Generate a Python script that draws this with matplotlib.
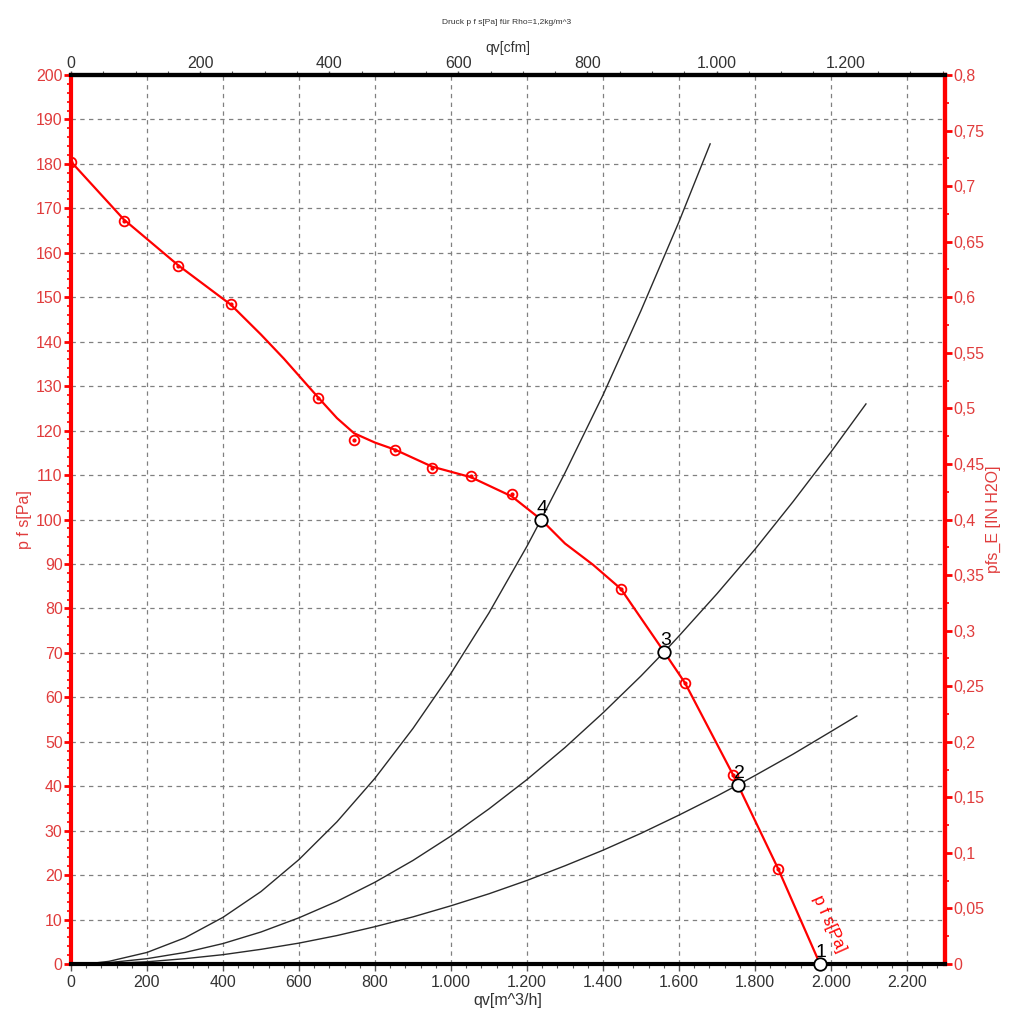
"""Kennlinie eines Ventilators: p f s ueber qv mit Anlagenkennlinien."""

import matplotlib
matplotlib.use("Agg")
import matplotlib.pyplot as plt
from matplotlib.ticker import FuncFormatter, MultipleLocator

plt.rcParams['font.family'] = ['Liberation Sans', 'DejaVu Sans']

# Ventilatorkennlinie (Linie) qv[m^3/h] / p f s[Pa]
kurve_qv = [0, 139, 282, 421, 500, 560, 650, 700, 745, 800, 853, 950, 1053, 1160,
            1237, 1300, 1374, 1447, 1561, 1616, 1742, 1755, 1861, 1971]
kurve_p = [180.5, 167.5, 157.2, 148.3, 141.6, 136.2, 127.5, 122.8, 119.4, 117.3, 115.7,
           111.9, 109.5, 105.2, 100.0, 94.6, 89.8, 84.4, 70.2, 63.2, 42.6, 40.3, 21.4, 0.0]

# Messpunkte auf der Kennlinie
mess_qv = [0, 139, 282, 421, 650, 745, 853, 950, 1053, 1160, 1447, 1616, 1742, 1861]
mess_p = [180.4, 167.2, 157.0, 148.5, 127.3, 117.9, 115.6, 111.6, 109.8, 105.7,
          84.4, 63.2, 42.5, 21.4]

# Betriebspunkte 1..4
bp_namen = ["1", "2", "3", "4"]
bp_qv = [1971, 1755, 1561, 1237]
bp_p = [0.0, 40.3, 70.2, 100.0]

# Anlagenkennlinien
anlage4_qv = [0, 50, 100, 200, 300, 400, 500, 600, 700, 800, 900, 1000, 1100, 1200,
              1237, 1300, 1400, 1500, 1600, 1682]
anlage4_p = [0, 0.1, 0.6, 2.6, 5.9, 10.5, 16.3, 23.5, 32.0, 41.8, 53.0, 65.4, 79.0,
             94.0, 100.0, 110.5, 128.0, 147.0, 167.0, 184.5]
anlage3_qv = [0, 50, 100, 200, 300, 400, 500, 600, 700, 800, 900, 1000, 1100, 1200,
              1300, 1400, 1500, 1561, 1600, 1700, 1800, 1900, 2000, 2092]
anlage3_p = [0, 0.05, 0.3, 1.2, 2.6, 4.6, 7.2, 10.4, 14.1, 18.4, 23.3, 28.8, 34.9,
             41.5, 48.7, 56.5, 64.8, 70.2, 73.8, 83.3, 93.3, 104.0, 115.2, 126.0]
anlage2_qv = [0, 50, 100, 200, 300, 400, 500, 600, 700, 800, 900, 1000, 1100, 1200,
              1300, 1400, 1500, 1600, 1700, 1755, 1800, 1900, 2000, 2068]
anlage2_p = [0, 0.03, 0.13, 0.5, 1.2, 2.1, 3.3, 4.7, 6.4, 8.4, 10.6, 13.1, 15.8,
             18.8, 22.1, 25.6, 29.4, 33.5, 37.8, 40.3, 42.4, 47.2, 52.3, 55.8]

ROT = "#ff0000"
ROT_TEXT = "#e03c3c"
GRAU_TEXT = "#333333"
CFM = 1.699011   # m^3/h pro cfm
PA_PRO_INH2O = 250.0


def tausender(wert, pos):
    """Formatiert 1200 als 1.200."""
    return f"{wert:,.0f}".replace(",", ".")


def komma(wert, pos):
    """Formatiert 0.45 als 0,45."""
    text = f"{wert:.3f}".rstrip("0").rstrip(".")
    return text.replace(".", ",")


fig = plt.figure(figsize=(10.11, 10.24), dpi=100)
ax = fig.add_axes([71 / 1011, 1 - 964 / 1024, (945 - 71) / 1011, (964 - 75) / 1024])

ax.set_xlim(0, 2300)
ax.set_ylim(0, 200)

# Gitter
strich = (0, (3.5, 3.5))
for x in range(200, 2300, 200):
    ax.axvline(x, color="#808080", lw=0.9, ls=strich, zorder=0)
for y in range(10, 200, 10):
    ax.axhline(y, color="#808080", lw=0.9, ls=strich, zorder=0)

# Anlagenkennlinien
for qv, p in [(anlage4_qv, anlage4_p), (anlage3_qv, anlage3_p), (anlage2_qv, anlage2_p)]:
    ax.plot(qv, p, color="#2a2a2a", lw=1.0, zorder=2)

# Ventilatorkennlinie
ax.plot(kurve_qv, kurve_p, color=ROT, lw=1.6, zorder=3)
ax.plot(mess_qv, mess_p, ls="none", marker="o", ms=7, mfc="none", mec=ROT, mew=1.3, zorder=4)
ax.plot(mess_qv, mess_p, ls="none", marker="o", ms=2, color=ROT, zorder=4)
ax.text(1995, 9, "p f s[Pa]", color=ROT, fontsize=12, rotation=-66,
        ha="center", va="center", zorder=5)

# Betriebspunkte
ax.plot(bp_qv, bp_p, ls="none", marker="o", ms=9, mfc="white", mec="black", mew=1.3,
        zorder=6, clip_on=False)
for name, qv, p in zip(bp_namen, bp_qv, bp_p):
    ax.annotate(name, (qv, p), xytext=(1, 2), textcoords="offset points",
                ha="center", va="bottom", fontsize=14, color="black", zorder=7)

# Achsen unten / links
ax.xaxis.set_major_locator(MultipleLocator(200))
ax.xaxis.set_minor_locator(MultipleLocator(40))
ax.xaxis.set_major_formatter(FuncFormatter(tausender))
ax.yaxis.set_major_locator(MultipleLocator(10))
ax.yaxis.set_minor_locator(MultipleLocator(2))
ax.tick_params(axis="x", which="major", length=5, width=1, colors="#555555",
               labelcolor=GRAU_TEXT, labelsize=11.5, pad=3)
ax.tick_params(axis="x", which="minor", length=3, width=0.8, colors="#555555")
ax.tick_params(axis="y", which="major", length=5, width=2, colors=ROT,
               labelcolor=ROT_TEXT, labelsize=11.5, pad=1)
ax.tick_params(axis="y", which="minor", length=3, width=1.2, colors=ROT)

ax.spines["left"].set_color(ROT)
ax.spines["left"].set_linewidth(3)
ax.spines["right"].set_color(ROT)
ax.spines["right"].set_linewidth(3)
ax.spines["top"].set_linewidth(3)
ax.spines["bottom"].set_linewidth(3)

ax.set_xlabel("qv[m^3/h]", fontsize=11.5, color=GRAU_TEXT, labelpad=2)
ax.set_ylabel("p f s[Pa]", fontsize=11.5, color=ROT_TEXT, labelpad=3)

# Achse oben in cfm
oben = ax.secondary_xaxis("top", functions=(lambda q: q / CFM, lambda c: c * CFM))
oben.xaxis.set_major_locator(MultipleLocator(200))
oben.xaxis.set_minor_locator(MultipleLocator(50))
oben.xaxis.set_major_formatter(FuncFormatter(tausender))
oben.tick_params(which="major", length=3, width=1, colors="#555555",
                 labelcolor=GRAU_TEXT, labelsize=11.5, pad=0)
oben.tick_params(which="minor", length=3, width=0.8, colors="#555555")
oben.spines["top"].set_linewidth(3)
oben.set_xlabel("qv[cfm]", fontsize=10, color=GRAU_TEXT, labelpad=3)

# Achse rechts in IN H2O
rechts = ax.secondary_yaxis("right", functions=(lambda p: p / PA_PRO_INH2O,
                                                lambda h: h * PA_PRO_INH2O))
rechts.yaxis.set_major_locator(MultipleLocator(0.05))
rechts.yaxis.set_minor_locator(MultipleLocator(0.025))
rechts.yaxis.set_major_formatter(FuncFormatter(komma))
rechts.tick_params(which="major", length=5, width=2, colors=ROT,
                   labelcolor=ROT_TEXT, labelsize=11.5, pad=1)
rechts.tick_params(which="minor", length=3, width=1.2, colors=ROT)
rechts.spines["right"].set_color(ROT)
rechts.spines["right"].set_linewidth(3)
rechts.set_ylabel("pfs_E [IN H2O]", fontsize=11.5, color=ROT_TEXT, labelpad=1)

fig.text(0.5015, 1 - 22 / 1024, "Druck p f s[Pa] für Rho=1,2kg/m^3", fontsize=6,
         color=GRAU_TEXT, ha="center", va="center")

fig.savefig("out.png", dpi=100)
